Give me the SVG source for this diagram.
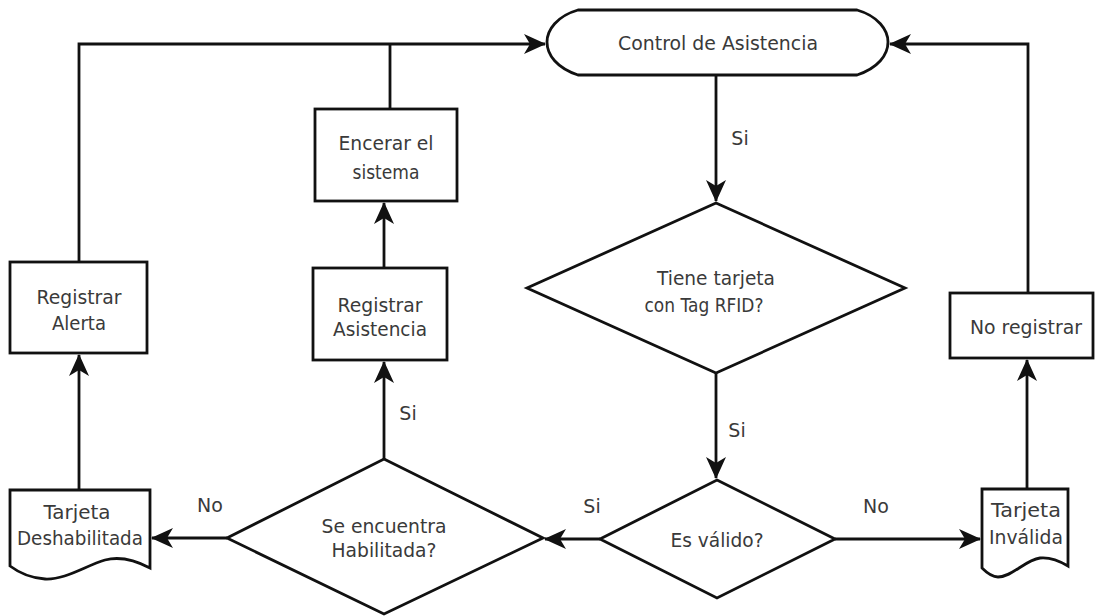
<svg xmlns="http://www.w3.org/2000/svg" width="1097" height="616" viewBox="0 0 1097 616">
  <style>
    .shape { fill: #ffffff; stroke: #111111; stroke-width: 2.8; stroke-linejoin: miter; }
    .edge { fill: none; stroke: #111111; stroke-width: 2.8; }
    .txt { font-family: "DejaVu Sans", Verdana, sans-serif; font-size: 20px; fill: #3a3a3a; text-anchor: middle; }
    .lbl { font-family: "DejaVu Sans", Verdana, sans-serif; font-size: 19px; fill: #3a3a3a; text-anchor: middle; }
  </style>
  <defs>
    <marker id="arrow" markerUnits="userSpaceOnUse" markerWidth="22" markerHeight="20" viewBox="0 0 22 20" refX="21" refY="10" orient="auto">
      <path d="M0,0 L22,10 L0,20 L6,10 Z" fill="#111111"/>
    </marker>
  </defs>
  <rect width="1097" height="616" fill="#ffffff"/>

  <!-- connectors -->
  <g id="connectors">
    <path class="edge" d="M716,75 V201" marker-end="url(#arrow)"/>
    <path class="edge" d="M716,373 V478" marker-end="url(#arrow)"/>
    <path class="edge" d="M600,539 H545" marker-end="url(#arrow)"/>
    <path class="edge" d="M835,539 H980" marker-end="url(#arrow)"/>
    <path class="edge" d="M227,538 H152" marker-end="url(#arrow)"/>
    <path class="edge" d="M384,459 V362" marker-end="url(#arrow)"/>
    <path class="edge" d="M384,268 V203" marker-end="url(#arrow)"/>
    <path class="edge" d="M390,109 V44"/>
    <path class="edge" d="M79,490 V355" marker-end="url(#arrow)"/>
    <path class="edge" d="M79,262 V44 H545" marker-end="url(#arrow)"/>
    <path class="edge" d="M1027,489 V360" marker-end="url(#arrow)"/>
    <path class="edge" d="M1028,293 V44 H890" marker-end="url(#arrow)"/>
    <text class="lbl" x="740" y="145">Si</text>
    <text class="lbl" x="737" y="437">Si</text>
    <text class="lbl" x="408" y="420">Si</text>
    <text class="lbl" x="592" y="513">Si</text>
    <text class="lbl" x="876" y="513">No</text>
    <text class="lbl" x="210" y="512">No</text>
  </g>

  <g id="control-asistencia">
    <path class="shape" d="M578,10 H857 C878,16 888,30 888,42 C888,55 878,68 857,75 H578 C557,68 547,55 547,42 C547,30 557,16 578,10 Z"/>
    <text class="txt" x="718" y="50" textLength="200" lengthAdjust="spacingAndGlyphs">Control de Asistencia</text>
  </g>

  <g id="encerar-sistema">
    <rect class="shape" x="315" y="109" width="142" height="92"/>
    <text class="txt" x="386" y="150" textLength="95" lengthAdjust="spacingAndGlyphs">Encerar el</text>
    <text class="txt" x="386" y="179" textLength="67" lengthAdjust="spacingAndGlyphs">sistema</text>
  </g>

  <g id="registrar-asistencia">
    <rect class="shape" x="313" y="268" width="134" height="92"/>
    <text class="txt" x="380" y="312" textLength="85" lengthAdjust="spacingAndGlyphs">Registrar</text>
    <text class="txt" x="380" y="336" textLength="94" lengthAdjust="spacingAndGlyphs">Asistencia</text>
  </g>

  <g id="registrar-alerta">
    <rect class="shape" x="10" y="262" width="137" height="91"/>
    <text class="txt" x="79" y="304" textLength="85" lengthAdjust="spacingAndGlyphs">Registrar</text>
    <text class="txt" x="79" y="330" textLength="54" lengthAdjust="spacingAndGlyphs">Alerta</text>
  </g>

  <g id="no-registrar">
    <rect class="shape" x="950" y="293" width="143" height="65"/>
    <text class="txt" x="1026" y="334" textLength="112" lengthAdjust="spacingAndGlyphs">No registrar</text>
  </g>

  <g id="tiene-tarjeta">
    <path class="shape" d="M716,203 L905,288 L716,373 L527,288 Z"/>
    <text class="txt" x="716" y="285" textLength="118" lengthAdjust="spacingAndGlyphs">Tiene tarjeta</text>
    <text class="txt" x="704" y="312" textLength="119" lengthAdjust="spacingAndGlyphs">con Tag RFID?</text>
  </g>

  <g id="es-valido">
    <path class="shape" d="M717,480 L835,539 L717,598 L600,539 Z"/>
    <text class="txt" x="717" y="547" textLength="93" lengthAdjust="spacingAndGlyphs">Es válido?</text>
  </g>

  <g id="se-encuentra-habilitada">
    <path class="shape" d="M384,459 L543,538 L384,614 L227,538 Z"/>
    <text class="txt" x="384" y="533" textLength="125" lengthAdjust="spacingAndGlyphs">Se encuentra</text>
    <text class="txt" x="384" y="557" textLength="105" lengthAdjust="spacingAndGlyphs">Habilitada?</text>
  </g>

  <g id="tarjeta-deshabilitada">
    <path class="shape" d="M10,490 H150 V568 C135,560 120,556 105,560 C85,566 65,580 45,579 C30,578 18,572 10,566 Z"/>
    <text class="txt" x="77" y="519" textLength="67" lengthAdjust="spacingAndGlyphs">Tarjeta</text>
    <text class="txt" x="80" y="545" textLength="126" lengthAdjust="spacingAndGlyphs">Deshabilitada</text>
  </g>

  <g id="tarjeta-invalida">
    <path class="shape" d="M982,489 H1068 V566 C1058,560 1050,557 1040,558 C1025,560 1012,577 998,577 C992,577 986,572 982,568 Z"/>
    <text class="txt" x="1026" y="517" textLength="70" lengthAdjust="spacingAndGlyphs">Tarjeta</text>
    <text class="txt" x="1026" y="544" textLength="74" lengthAdjust="spacingAndGlyphs">Inválida</text>
  </g>
</svg>
